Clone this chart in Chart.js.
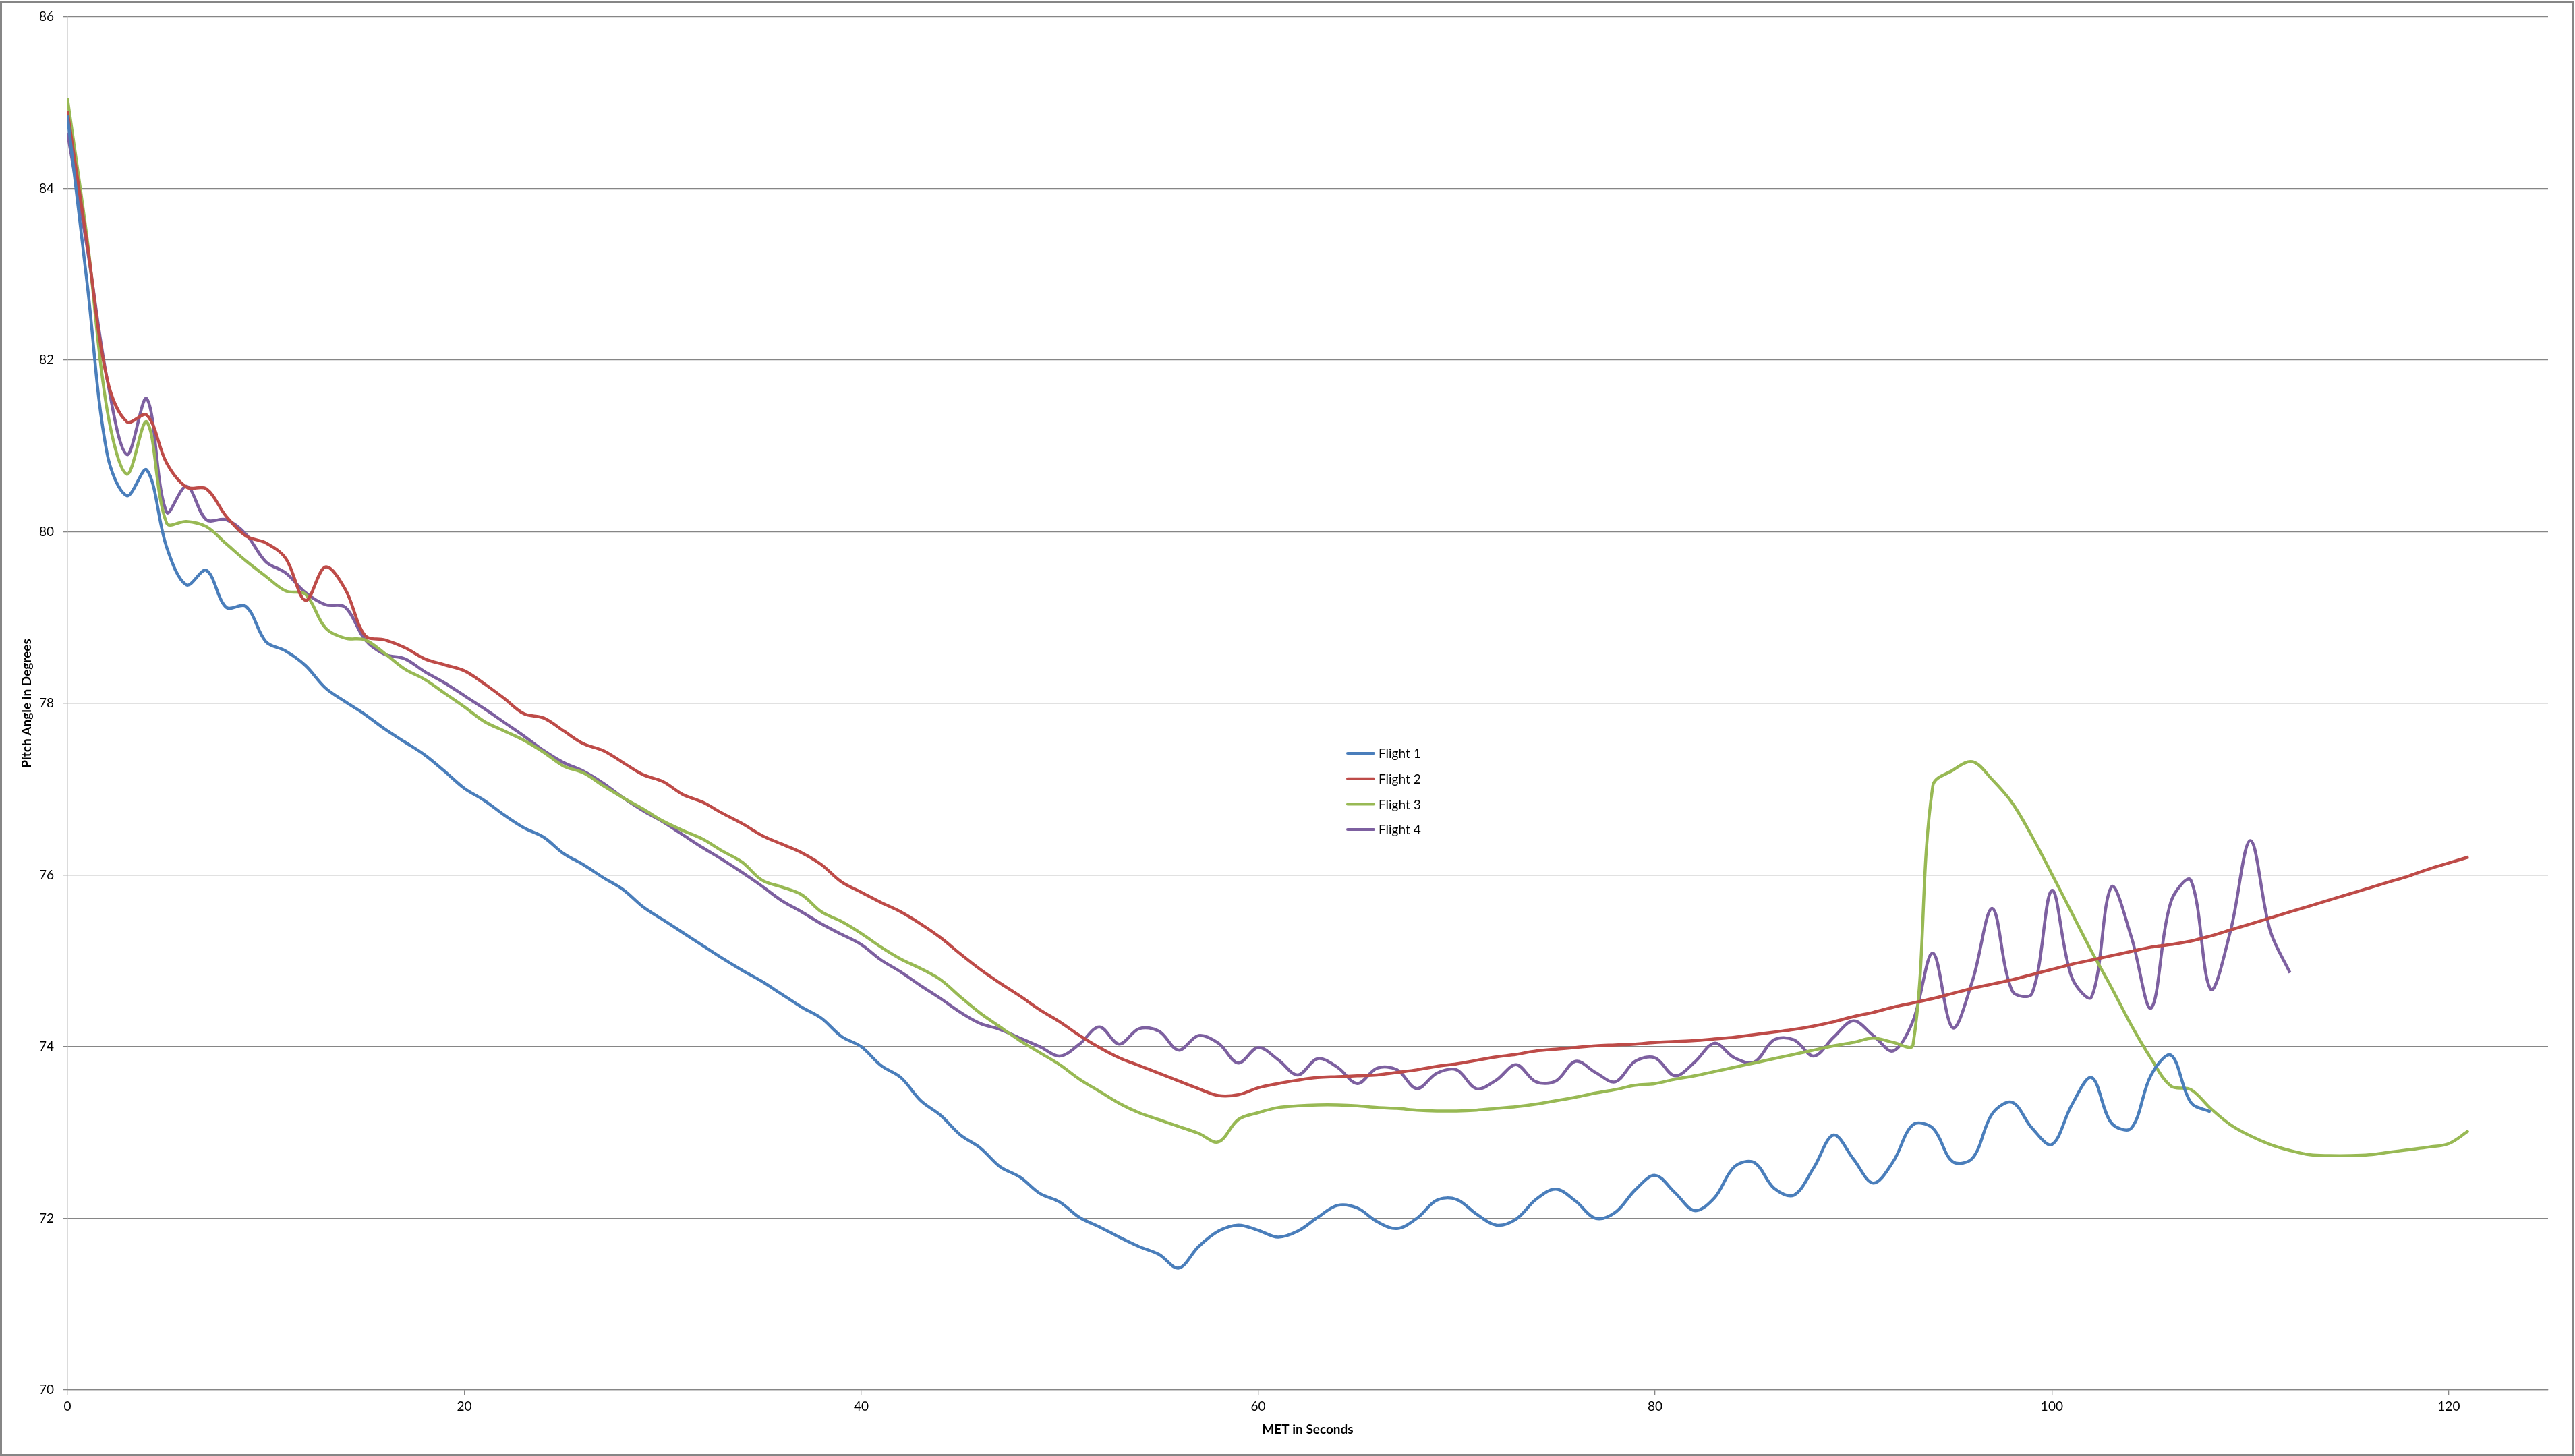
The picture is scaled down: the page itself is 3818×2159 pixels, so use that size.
<!DOCTYPE html>
<html>
<head>
<meta charset="utf-8">
<title>Pitch Angle in Degrees vs MET</title>
<script src="https://cdn.jsdelivr.net/npm/chart.js@4.4.1/dist/chart.umd.min.js"></script>
<style>
  html, body { margin: 0; padding: 0; background: #fff; }
  #wrap { position: relative; width: 3818px; height: 2159px; }
  #pitchChart { display: block; }
  /* grey frame round the whole chart, like the Excel chart area */
  #frame { position: absolute; left: 0; top: 2px; right: 1px; bottom: 0; border: 3px solid #868686; pointer-events: none; }
</style>
</head>
<body>
<div id="wrap">
  <canvas id="pitchChart" width="3818" height="2159"></canvas>
  <div id="frame"></div>
</div>
<script>
// One sample per second of MET, starting at 0 s
const seriesNames = ['Flight 1', 'Flight 2', 'Flight 3', 'Flight 4'];
const seriesColors = ['#4A7EBB', '#BE4B48', '#98B954', '#7D60A0'];

const flight1 = [
  84.85, 82.88, 80.91, 80.42, 80.72, 79.82, 79.38, 79.55, 79.12, 79.13,
  78.72, 78.61, 78.44, 78.18, 78.02, 77.87, 77.70, 77.55, 77.40, 77.21,
  77.01, 76.87, 76.70, 76.55, 76.44, 76.25, 76.12, 75.97, 75.83, 75.63,
  75.48, 75.33, 75.18, 75.03, 74.89, 74.76, 74.61, 74.46, 74.33, 74.12,
  74.00, 73.78, 73.64, 73.37, 73.20, 72.97, 72.82, 72.60, 72.48, 72.29,
  72.19, 72.01, 71.90, 71.78, 71.67, 71.58, 71.42, 71.67, 71.85, 71.92,
  71.86, 71.78, 71.85, 72.01, 72.15, 72.12, 71.96, 71.88, 72.00, 72.21,
  72.22, 72.05, 71.92, 71.99, 72.22, 72.34, 72.20, 72.00, 72.07, 72.33,
  72.50, 72.30, 72.09, 72.24, 72.60, 72.65, 72.35, 72.27, 72.59, 72.97,
  72.69, 72.41, 72.66, 73.09, 73.05, 72.66, 72.70, 73.22, 73.35, 73.05,
  72.86, 73.32, 73.64, 73.11, 73.05, 73.67, 73.90, 73.35, 73.24
];

const flight2 = [
  84.90, 83.35, 81.78, 81.28, 81.36, 80.80, 80.52, 80.50, 80.18, 79.95,
  79.87, 79.69, 79.20, 79.59, 79.33, 78.79, 78.74, 78.65, 78.52, 78.45,
  78.38, 78.23, 78.06, 77.88, 77.83, 77.68, 77.53, 77.45, 77.31, 77.17,
  77.09, 76.94, 76.85, 76.72, 76.60, 76.46, 76.36, 76.26, 76.12, 75.92,
  75.80, 75.68, 75.57, 75.43, 75.27, 75.08, 74.90, 74.74, 74.59, 74.43,
  74.29, 74.13, 73.99, 73.87, 73.78, 73.69, 73.60, 73.51, 73.43, 73.44,
  73.52, 73.57, 73.61, 73.64, 73.65, 73.66, 73.67, 73.70, 73.73, 73.77,
  73.80, 73.84, 73.88, 73.91, 73.95, 73.97, 73.99, 74.01, 74.02, 74.03,
  74.05, 74.06, 74.07, 74.09, 74.11, 74.14, 74.17, 74.20, 74.24, 74.29,
  74.35, 74.40, 74.46, 74.51, 74.56, 74.62, 74.68, 74.73, 74.78, 74.84,
  74.90, 74.96, 75.01, 75.06, 75.11, 75.16, 75.19, 75.23, 75.29, 75.36,
  75.43, 75.50, 75.57, 75.64, 75.71, 75.78, 75.85, 75.92, 75.99, 76.07,
  76.14, 76.21
];

const flight3 = [
  85.05, 83.40, 81.42, 80.67, 81.28, 80.10, 80.12, 80.06, 79.86, 79.66,
  79.48, 79.31, 79.27, 78.88, 78.76, 78.74, 78.58, 78.40, 78.28, 78.12,
  77.96, 77.79, 77.68, 77.57, 77.43, 77.27, 77.19, 77.04, 76.90, 76.77,
  76.63, 76.52, 76.42, 76.28, 76.15, 75.94, 75.86, 75.77, 75.57, 75.46,
  75.32, 75.16, 75.02, 74.91, 74.78, 74.58, 74.39, 74.23, 74.07, 73.93,
  73.79, 73.62, 73.48, 73.34, 73.23, 73.15, 73.07, 72.99, 72.89, 73.15,
  73.23, 73.29, 73.31, 73.32, 73.32, 73.31, 73.29, 73.28, 73.26, 73.25,
  73.25, 73.26, 73.28, 73.30, 73.33, 73.37, 73.41, 73.46, 73.50, 73.55,
  73.57, 73.62, 73.66, 73.71, 73.76, 73.81, 73.86, 73.91, 73.96, 74.01,
  74.05, 74.10, 74.05, 74.02, 77.04, 77.22, 77.32, 77.11, 76.84, 76.45,
  76.01, 75.56, 75.11, 74.69, 74.25, 73.86, 73.54, 73.50, 73.28, 73.09,
  72.96, 72.86, 72.79, 72.74, 72.73, 72.73, 72.74, 72.77, 72.80, 72.83,
  72.87, 73.02
];

const flight4 = [
  84.65, 83.30, 81.78, 80.90, 81.55, 80.23, 80.53, 80.14, 80.14, 79.97,
  79.65, 79.52, 79.29, 79.15, 79.12, 78.74, 78.57, 78.52, 78.37, 78.24,
  78.09, 77.94, 77.78, 77.62, 77.45, 77.31, 77.21, 77.07, 76.90, 76.75,
  76.62, 76.47, 76.32, 76.18, 76.03, 75.87, 75.70, 75.57, 75.43, 75.31,
  75.19, 75.01, 74.87, 74.71, 74.56, 74.40, 74.27, 74.20, 74.10, 74.00,
  73.89, 74.03, 74.23, 74.03, 74.21, 74.18, 73.96, 74.13, 74.04, 73.81,
  73.99, 73.85, 73.67, 73.86, 73.76, 73.57, 73.75, 73.73, 73.51, 73.69,
  73.73, 73.51, 73.61, 73.79, 73.59, 73.60, 73.83, 73.70, 73.59, 73.83,
  73.87, 73.66, 73.82, 74.04, 73.87, 73.82, 74.08, 74.08, 73.89, 74.11,
  74.30, 74.13, 73.95, 74.30, 75.09, 74.22, 74.77, 75.61, 74.65, 74.62,
  75.82, 74.81, 74.58, 75.86, 75.28, 74.45, 75.69, 75.94, 74.67, 75.35,
  76.40, 75.35, 74.86
];

const xTickValues = [0, 20, 40, 60, 80, 100, 120];
const yTickValues = [70, 72, 74, 76, 78, 80, 82, 84, 86];

const allFlights = [flight1, flight2, flight3, flight4];

// turn a per-second list into {x, y} points (x = seconds since launch)
function toPoints(values) {
    return values.map((v, i) => ({ x: i, y: v }));
}

// Legend sits inside the plot area in the original, so draw it ourselves
const floatingLegend = {
    id: 'floatingLegend',
    afterDraw(chart) {
        const ctx = chart.ctx;
        ctx.save();
        ctx.font = '19px Lato';
        ctx.textBaseline = 'middle';
        chart.data.datasets.forEach((ds, i) => {
            const y = 1117 + i * 37.7;
            ctx.strokeStyle = ds.borderColor;
            ctx.lineWidth = 4;
            ctx.lineCap = 'round';
            ctx.beginPath();
            ctx.moveTo(1998, y);
            ctx.lineTo(2037, y);
            ctx.stroke();
            ctx.fillStyle = '#000';
            ctx.fillText(ds.label, 2044, y + 1);
        });
        ctx.restore();
    }
};

Chart.defaults.font.family = 'Lato, "Open Sans", sans-serif';
Chart.defaults.color = '#000';

const ctx = document.getElementById('pitchChart').getContext('2d');
const pitchChart = new Chart(ctx, {
    type: 'line',
    data: {
        datasets: allFlights.map((values, i) => ({
            label: seriesNames[i],
            data: toPoints(values),
            borderColor: seriesColors[i],
            backgroundColor: seriesColors[i],
            borderWidth: 4.5,
            pointRadius: 0,
            tension: 0.35,
            fill: false
        }))
    },
    options: {
        responsive: false,
        animation: false,
        layout: { padding: { top: 25, right: 40, bottom: 0, left: 0 } },
        plugins: {
            legend: { display: false },
            tooltip: { enabled: false }
        },
        scales: {
            x: {
                type: 'linear',
                min: 0,
                max: 125,
                afterBuildTicks: (scale) => { scale.ticks = xTickValues.map(v => ({ value: v })); },
                afterFit: (scale) => { scale.height = 98; },
                ticks: { font: { size: 19 }, color: '#000', padding: 6, maxRotation: 0 },
                grid: { drawOnChartArea: false, tickLength: 7, color: '#868686', lineWidth: 1.3 },
                border: { color: '#868686', width: 1.3 },
                title: {
                    display: true,
                    text: 'MET in Seconds',
                    font: { size: 19, weight: 'bold' },
                    color: '#000',
                    padding: { top: 0, bottom: 28 }
                }
            },
            y: {
                min: 70,
                max: 86,
                afterBuildTicks: (scale) => { scale.ticks = yTickValues.map(v => ({ value: v })); },
                afterFit: (scale) => { scale.width = 100; },
                ticks: { font: { size: 19 }, color: '#000', padding: 13 },
                grid: { color: '#868686', lineWidth: 1.3, tickLength: 7 },
                border: { color: '#868686', width: 1.3 },
                title: {
                    display: true,
                    text: 'Pitch Angle in Degrees',
                    font: { size: 19, weight: 'bold' },
                    color: '#000',
                    padding: { top: 28, bottom: 0 }
                }
            }
        }
    },
    plugins: [floatingLegend]
});
</script>
</body>
</html>
